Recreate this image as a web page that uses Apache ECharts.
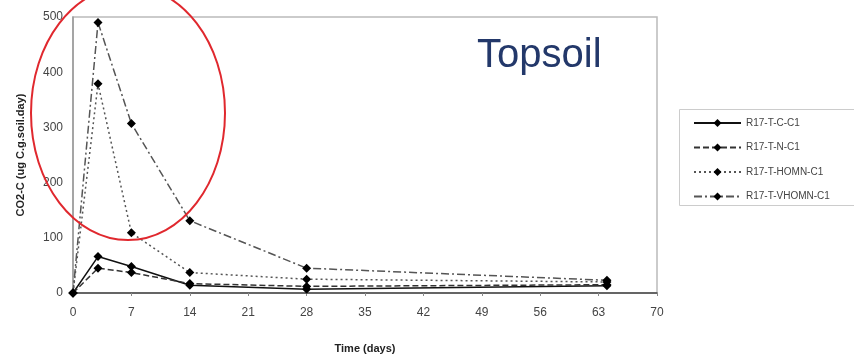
<!DOCTYPE html>
<html>
<head>
<meta charset="utf-8">
<style>html,body{margin:0;padding:0;background:#fff;}#c{width:854px;height:361px;}</style>
<script src="https://cdn.jsdelivr.net/npm/echarts@6/dist/echarts.min.js"></script>
</head>
<body>
<div id="c"></div>
<script>
const days = [0, 3, 7, 14, 28, 64];
const seriesNames = ['R17-T-C-C1', 'R17-T-N-C1', 'R17-T-HOMN-C1', 'R17-T-VHOMN-C1'];
const valC = [0, 66, 48, 14, 7, 13];
const valN = [0, 45, 37, 17, 12, 15];
const valHOMN = [0, 379, 109, 37, 25, 20];
const valVHOMN = [0, 490, 307, 131, 45, 23];
const xTicks = [0, 7, 14, 21, 28, 35, 42, 49, 56, 63, 70];
const yTicks = [0, 100, 200, 300, 400, 500];
const annotation = 'Topsoil';
const xName = 'Time (days)';
const yName = 'CO2-C (ug C.g.soil.day)';

const allVals = [valC, valN, valHOMN, valVHOMN];
const styles = [
  {color: '#111', type: 'solid'},
  {color: '#333', type: [6, 3]},
  {color: '#555', type: [2, 3]},
  {color: '#555', type: [8, 3, 2, 3]}
];

const chart = echarts.init(document.getElementById('c'), null, {renderer: 'canvas'});
chart.setOption({
  animation: false,
  backgroundColor: '#fff',
  grid: {left: 73, right: 197, top: 17, bottom: 68, show: true, borderColor: '#bbb', borderWidth: 1.5},
  xAxis: {
    type: 'value', min: xTicks[0], max: xTicks[xTicks.length - 1], interval: 7,
    name: xName, nameLocation: 'middle', nameGap: 50,
    nameTextStyle: {fontFamily: 'Liberation Sans', fontWeight: 'bold', fontSize: 11, color: '#222'},
    axisLine: {lineStyle: {color: '#444', width: 1.5}},
    axisTick: {show: true, length: 3, lineStyle: {color: '#888'}},
    axisLabel: {fontFamily: 'Liberation Sans', fontSize: 12, color: '#444', margin: 14},
    splitLine: {show: false}
  },
  yAxis: {
    type: 'value', min: yTicks[0], max: yTicks[yTicks.length - 1], interval: 100,
    name: yName, nameLocation: 'middle', nameGap: 47, nameRotate: 90,
    nameTextStyle: {fontFamily: 'Liberation Sans', fontWeight: 'bold', fontSize: 11, color: '#222'},
    axisLine: {show: true, lineStyle: {color: '#999', width: 1.5}},
    axisTick: {show: false},
    axisLabel: {fontFamily: 'Liberation Sans', fontSize: 12, color: '#444', margin: 10},
    splitLine: {show: false}
  },
  legend: {
    orient: 'vertical', left: 688, top: 113, itemWidth: 47, itemHeight: 10, itemGap: 14.5,
    textStyle: {fontFamily: 'Liberation Sans', fontSize: 10, color: '#444'},
    data: seriesNames
  },
  series: allVals.map((vals, i) => ({
    name: seriesNames[i],
    type: 'line',
    data: days.map((d, j) => [d, vals[j]]),
    symbol: 'diamond', symbolSize: 9,
    itemStyle: {color: '#000'},
    lineStyle: {color: styles[i].color, type: styles[i].type, width: 1.5},
    z: 3
  })),
  graphic: [
    {type: 'rect', left: 677, top: 107, shape: {width: 190, height: 96}, style: {fill: 'none', stroke: '#ccc', lineWidth: 1}, z: 0},
    {type: 'text', left: 477, top: 36, style: {text: annotation, fontFamily: 'Liberation Sans', fontSize: 40, fill: '#23386a'}, z: 5},
    {type: 'ellipse', shape: {cx: 128, cy: 113, rx: 97, ry: 127}, style: {fill: 'none', stroke: '#e0282e', lineWidth: 2}, z: 10}
  ]
});
</script>
</body>
</html>
